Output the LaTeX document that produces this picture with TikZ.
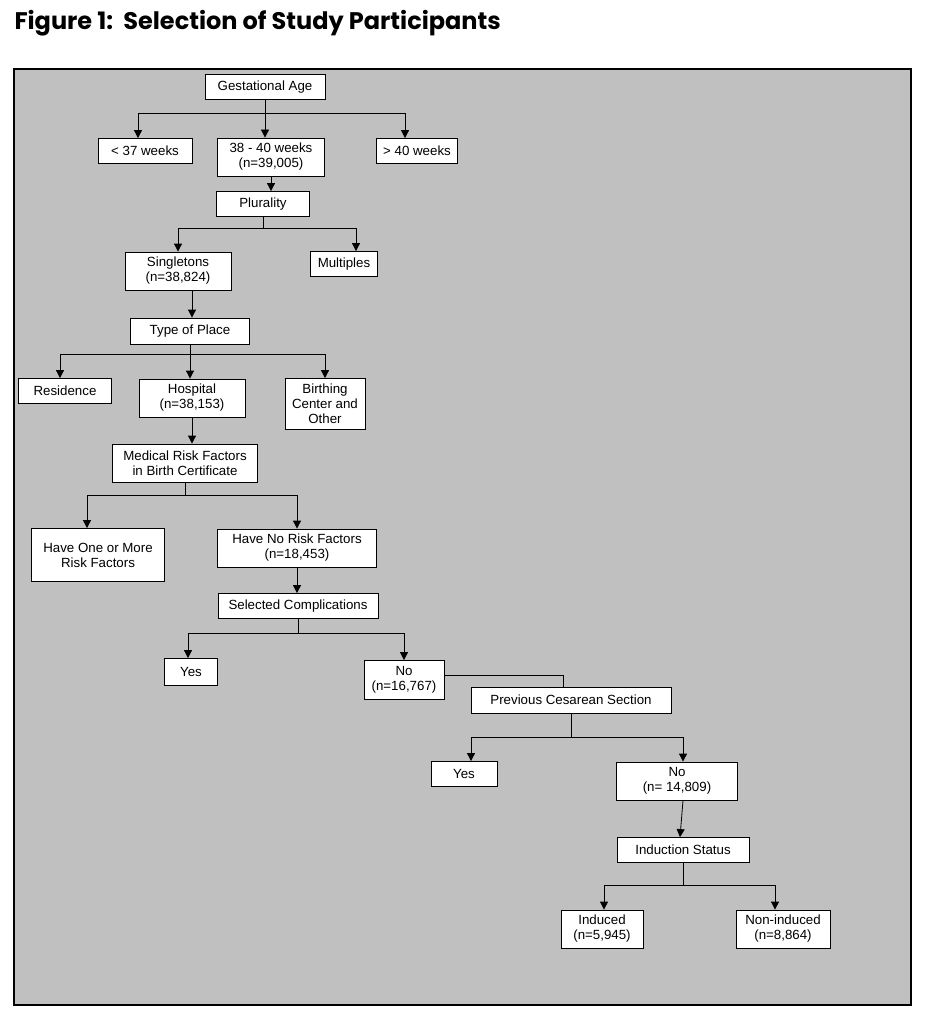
\documentclass[tikz,border=0pt]{standalone}
\usepackage{fontspec}
\setmainfont{Liberation Sans}
\newfontfamily\titlefont{Poppins}
\usetikzlibrary{arrows.meta,positioning}
\definecolor{PanelGray}{HTML}{C0C0C0}
\tikzset{
  box/.style={draw,thick,fill=white,align=center,inner sep=1pt,
              font=\fontsize{13.3}{15}\selectfont},
  link/.style={thick},
  arr/.style={thick,-{Triangle[length=8pt,width=8pt]}}
}
\begin{document}
\begin{tikzpicture}[x=1pt,y=-1pt]
        \useasboundingbox (0,0) rectangle (926,1024);
        % title and panel
        \node[anchor=west,font=\titlefont\bfseries\fontsize{24}{28}\selectfont]
              (title) at (11,23) {Figure 1:\ \ Selection of Study Participants};
        \draw[line width=2.5pt,fill=PanelGray] (14,69) rectangle (911,1005);
        % boxes
        \node[box,minimum width=120,minimum height=25] (ga) at (265,87) {Gestational Age};
        \node[box,minimum width=94,minimum height=25] (lt) at (145,151) {< 37 weeks};
        \node[box,minimum width=107,minimum height=38] (mid) at (271,157) {38 - 40 weeks\\(n=39,005)};
        \node[box,minimum width=81,minimum height=25] (gt) at (417,151) {> 40 weeks};
        \node[box,minimum width=93,minimum height=25] (plu) at (263,204) {Plurality};
        \node[box,minimum width=106,minimum height=38] (sing) at (178,271) {Singletons\\(n=38,824)};
        \node[box,minimum width=67,minimum height=25] (mult) at (344,264) {Multiples};
        \node[box,minimum width=119,minimum height=26] (place) at (190,331) {Type of Place};
        \node[box,minimum width=93,minimum height=25] (res) at (65,391) {Residence};
        \node[box,minimum width=106,minimum height=38] (hosp) at (192,398) {Hospital\\(n=38,153)};
        \node[box,minimum width=80,minimum height=51] (birth) at (325,404) {Birthing\\Center and\\Other};
        \node[box,minimum width=145,minimum height=38] (mrf) at (185,463) {Medical Risk Factors\\in Birth Certificate};
        \node[box,minimum width=133,minimum height=53] (one) at (98,555) {Have One or More\\Risk Factors};
        \node[box,minimum width=159,minimum height=38] (none) at (297,548) {Have No Risk Factors\\(n=18,453)};
        \node[box,minimum width=160,minimum height=25] (comp) at (298,606) {Selected Complications};
        \node[box,minimum width=53,minimum height=27] (cyes) at (191,672) {Yes};
        \node[box,minimum width=80,minimum height=39] (cno) at (404,680) {No\\(n=16,767)};
        \node[box,minimum width=200,minimum height=26] (pcs) at (571,700) {Previous Cesarean Section};
        \node[box,minimum width=66,minimum height=25] (pyes) at (464,774) {Yes};
        \node[box,minimum width=121,minimum height=38] (pno) at (677,781) {No\\(n= 14,809)};
        \node[box,minimum width=132,minimum height=25] (ind) at (683,850) {Induction Status};
        \node[box,minimum width=82,minimum height=38] (yind) at (602,929) {Induced\\(n=5,945)};
        \node[box,minimum width=94,minimum height=38] (nind) at (783,929) {Non-induced\\(n=8,864)};
        % connectors
        \draw[link] (ga.south) -- (ga.south |- 0,113);
        \draw[arr] (ga.south |- 0,113) -| (lt.north -| 138,0);
        \draw[arr] (ga.south |- 0,113) -| (gt.north -| 405,0);
        \draw[arr] (ga.south |- 0,113) -- (ga.south |- mid.north);
        \draw[arr] (mid.south) -- (mid.south |- plu.north);
        \draw[link] (plu.south) -- (plu.south |- 0,228);
        \draw[arr] (plu.south |- 0,228) -| (sing.north);
        \draw[arr] (plu.south |- 0,228) -| (mult.north -| 356,0);
        \draw[arr] (sing.south -| 192,0) -- (place.north -| 192,0);
        \draw[link] (place.south) -- (place.south |- 0,354);
        \draw[arr] (place.south |- 0,354) -| (res.north -| 60,0);
        \draw[arr] (place.south |- 0,354) -- (place.south |- hosp.north);
        \draw[arr] (place.south |- 0,354) -| (birth.north);
        \draw[arr] (hosp.south) -- (hosp.south |- mrf.north);
        \draw[link] (mrf.south) -- (mrf.south |- 0,495);
        \draw[arr] (mrf.south |- 0,495) -| (one.north -| 87,0);
        \draw[arr] (mrf.south |- 0,495) -| (none.north);
        \draw[arr] (none.south) -- (comp.north -| none.south);
        \draw[link] (comp.south) -- (comp.south |- 0,633);
        \draw[arr] (comp.south |- 0,633) -| (cyes.north -| 188,0);
        \draw[arr] (comp.south |- 0,633) -| (cno.north);
        \draw[link] (cno.east |- 0,675) -| (pcs.north -| 563,0);
        \draw[link] (pcs.south) -- (pcs.south |- 0,737);
        \draw[arr] (pcs.south |- 0,737) -| (pyes.north -| 471,0);
        \draw[arr] (pcs.south |- 0,737) -| (pno.north -| 683,0);
        \draw[arr] (pno.south -| 683,0) -- (ind.north -| 680,0);
        \draw[link] (ind.south) -- (ind.south |- 0,885);
        \draw[arr] (ind.south |- 0,885) -| (yind.north -| 604,0);
        \draw[arr] (ind.south |- 0,885) -| (nind.north -| 775,0);
      \end{tikzpicture}
\end{document}
